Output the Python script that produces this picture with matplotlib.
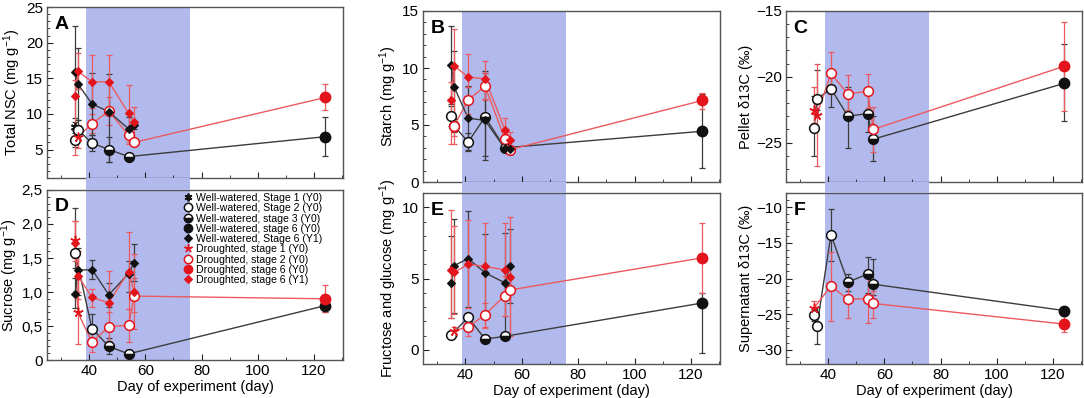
import matplotlib
matplotlib.use('Agg')
import matplotlib.pyplot as plt
from matplotlib.ticker import MultipleLocator, FixedLocator, FixedFormatter
from matplotlib.lines import Line2D
from matplotlib.patches import Rectangle

plt.rcParams['font.family'] = ['Liberation Sans', 'DejaVu Sans']
plt.rcParams['mathtext.fontset'] = 'custom'
plt.rcParams['mathtext.rm'] = 'Liberation Sans'
plt.rcParams['mathtext.it'] = 'Liberation Sans'

# ---------------- data ----------------
# shaded drought period (days)
shade_days = [39, 75.7]

# Panel A: Total NSC
A_ww0_x = [35, 35, 36, 41, 47, 54, 124]
A_ww0_st = [2, 1, 2, 2, 3, 3, 6]
A_ww0_y = [6.4, 8.1, 7.8, 5.9, 5.0, 4.0, 6.8]
A_ww0_lo = [5.3, 7.3, 6.5, 4.8, 3.2, 3.7, 4.1]
A_ww0_hi = [7.6, 8.9, 9.2, 7.0, 6.8, 4.3, 9.5]
A_dr0_x = [36, 41, 47, 54, 56, 124]
A_dr0_st = [1, 2, 2, 2, 2, 6]
A_dr0_y = [6.8, 8.6, 10.4, 7.0, 6.0, 12.3]
A_dr0_lo = [5.2, 7.3, 8.5, 5.8, 5.6, 10.6]
A_dr0_hi = [8.4, 10.0, 12.3, 8.2, 6.4, 14.2]
A_ww1_x = [35, 36, 41, 47, 54, 56]
A_ww1_y = [15.9, 14.2, 11.4, 10.3, 7.9, 8.4]
A_ww1_lo = [9.4, 9.2, 7.0, 3.2, 6.9, 7.9]
A_ww1_hi = [22.4, 19.2, 15.7, 15.6, 9.5, 9.0]
A_dr1_x = [35, 36, 41, 47, 54, 56]
A_dr1_y = [12.5, 16.0, 14.5, 14.5, 10.1, 8.8]
A_dr1_lo = [4.2, 13.5, 10.8, 10.7, 6.0, 6.6]
A_dr1_hi = [14.7, 18.5, 18.2, 18.3, 14.1, 11.0]

# Panel B: Starch
B_ww0_x = [35, 36, 41, 47, 54, 124]
B_ww0_st = [2, 2, 2, 3, 3, 6]
B_ww0_y = [5.8, 4.95, 3.5, 5.7, 3.0, 4.45]
B_ww0_lo = [4.9, 4.4, 2.7, 1.9, 2.8, 1.2]
B_ww0_hi = [6.7, 5.5, 4.3, 9.6, 3.2, 7.7]
B_dr0_x = [36, 36, 41, 47, 54, 56, 124]
B_dr0_st = [1, 2, 2, 2, 2, 2, 6]
B_dr0_y = [4.75, 4.9, 7.2, 8.4, 3.8, 2.85, 7.15]
B_dr0_lo = [3.3, 4.0, 6.0, 7.2, 3.3, 2.5, 6.4]
B_dr0_hi = [5.3, 5.6, 8.3, 9.6, 4.2, 3.2, 7.8]
B_ww1_x = [35, 36, 41, 47, 54, 56]
B_ww1_y = [10.3, 8.36, 5.6, 5.4, 2.95, 2.9]
B_ww1_lo = [6.8, 5.0, 2.8, 2.3, 2.7, 2.7]
B_ww1_hi = [13.7, 11.5, 8.4, 9.7, 3.2, 3.1]
B_dr1_x = [35, 36, 41, 47, 54, 56]
B_dr1_y = [7.15, 10.2, 9.2, 9.05, 4.6, 3.7]
B_dr1_lo = [3.3, 5.0, 8.3, 7.3, 3.6, 3.0]
B_dr1_hi = [8.8, 13.4, 11.2, 10.6, 5.6, 4.4]

# Panel C: Pellet d13C
C_ww0_x = [35, 36, 41, 47, 54, 56, 124]
C_ww0_st = [2, 2, 2, 3, 3, 3, 6]
C_ww0_y = [-23.9, -21.7, -20.9, -23.0, -22.8, -24.75, -20.5]
C_ww0_lo = [-26.0, -22.5, -22.3, -25.4, -24.2, -26.4, -23.4]
C_ww0_hi = [-21.5, -19.5, -19.6, -20.8, -21.4, -23.0, -17.5]
C_dr0_x = [35, 36, 41, 47, 54, 56, 124]
C_dr0_st = [1, 1, 2, 2, 2, 2, 6]
C_dr0_y = [-22.5, -22.9, -19.75, -21.3, -21.1, -24.0, -19.2]
C_dr0_lo = [-23.5, -26.8, -21.3, -22.5, -22.4, -25.7, -22.6]
C_dr0_hi = [-20.8, -19.0, -18.1, -19.9, -19.8, -22.3, -15.85]

# Panel D: Sucrose
D_ww0_x = [35, 41, 47, 54, 124]
D_ww0_st = [2, 2, 3, 3, 6]
D_ww0_y = [1.58, 0.46, 0.20, 0.09, 0.80]
D_ww0_lo = [1.35, 0.25, 0.09, 0.06, 0.70]
D_ww0_hi = [2.23, 0.68, 0.32, 0.12, 0.88]
D_dr0_x = [35, 36, 41, 47, 54, 56, 124]
D_dr0_st = [1, 1, 2, 2, 2, 2, 6]
D_dr0_y = [1.76, 0.70, 0.26, 0.49, 0.51, 0.94, 0.90]
D_dr0_lo = [1.5, 0.23, 0.12, 0.28, 0.27, 0.70, 0.70]
D_dr0_hi = [2.05, 1.0, 0.41, 0.70, 0.75, 1.2, 1.11]
D_ww1_x = [35, 36, 41, 47, 54, 56]
D_ww1_y = [0.97, 1.32, 1.33, 0.96, 1.27, 1.43]
D_ww1_lo = [0.77, 0.95, 1.19, 0.78, 1.0, 1.16]
D_ww1_hi = [1.2, 1.65, 1.47, 1.13, 1.45, 1.70]
D_dr1_x = [35, 36, 41, 47, 54, 56]
D_dr1_y = [1.72, 1.24, 0.92, 0.84, 1.30, 1.0]
D_dr1_lo = [1.45, 0.9, 0.78, 0.42, 0.75, 0.46]
D_dr1_hi = [2.05, 1.6, 1.05, 1.31, 1.88, 1.56]

# Panel E: Fructose and glucose
E_ww0_x = [35, 41, 47, 54, 124]
E_ww0_st = [2, 2, 3, 3, 6]
E_ww0_y = [1.05, 2.27, 0.75, 0.94, 3.28]
E_ww0_lo = [0.9, 1.9, 0.6, 0.8, -0.25]
E_ww0_hi = [1.2, 2.6, 0.9, 1.1, 4.0]
E_dr0_x = [36, 41, 47, 54, 56, 124]
E_dr0_st = [1, 2, 2, 2, 2, 6]
E_dr0_y = [1.35, 1.6, 2.46, 3.8, 4.2, 6.45]
E_dr0_lo = [1.0, 1.0, 1.6, 2.4, 1.0, 4.0]
E_dr0_hi = [1.6, 2.2, 3.3, 5.2, 5.0, 8.9]
E_ww1_x = [35, 36, 41, 47, 54, 56]
E_ww1_y = [4.66, 5.9, 6.4, 5.4, 4.7, 5.9]
E_ww1_lo = [2.2, 2.6, 3.0, 2.7, 1.0, 3.3]
E_ww1_hi = [8.0, 9.2, 9.75, 8.1, 8.2, 8.5]
E_dr1_x = [35, 36, 41, 47, 54, 56]
E_dr1_y = [5.6, 5.43, 6.0, 5.85, 5.6, 5.1]
E_dr1_lo = [2.2, 2.5, 2.9, 1.5, 2.4, 1.0]
E_dr1_hi = [9.8, 8.7, 9.1, 8.9, 8.9, 9.3]

# Panel F: Supernatant d13C
F_ww0_x = [35, 36, 41, 47, 54, 56, 124]
F_ww0_st = [2, 2, 2, 3, 3, 3, 6]
F_ww0_y = [-25.15, -26.7, -13.86, -20.5, -19.4, -20.8, -24.5]
F_ww0_lo = [-26.0, -29.2, -17.5, -21.7, -22.0, -22.3, -25.0]
F_ww0_hi = [-24.3, -24.0, -10.2, -19.4, -17.0, -17.3, -24.0]
F_dr0_x = [35, 41, 47, 54, 56, 124]
F_dr0_st = [1, 2, 2, 2, 2, 6]
F_dr0_y = [-24.1, -21.06, -22.9, -22.85, -23.5, -26.4]
F_dr0_lo = [-25.4, -26.0, -25.5, -26.3, -25.5, -27.5]
F_dr0_hi = [-23.2, -16.3, -20.5, -19.5, -21.8, -25.3]

x_ticks = [40, 60, 80, 100, 120]
x_tick_labels = ['40', '60', '80', '100', '120']
D_yticks = [0, 0.5, 1.0, 1.5, 2.0, 2.5]
D_ytick_labels = ['0', '0,5', '1,0', '1,5', '2,0', '2,5']

legend_labels = ['Well-watered, Stage 1 (Y0)', 'Well-watered, Stage 2 (Y0)',
                 'Well-watered, stage 3 (Y0)', 'Well-watered, stage 6 (Y0)',
                 'Well-watered, Stage 6 (Y1)', 'Droughted, stage 1 (Y0)',
                 'Droughted, stage 2 (Y0)', 'Droughted, stage 6 (Y0)',
                 'Droughted, stage 6 (Y1)']

# ---------------- styles ----------------
BLACK = '#111111'
BLINE = '#3c3c3c'
RED = '#e3141c'
RLINE = '#ec5a5f'
SHADE = '#b2baed'


def marker_style(color, stage):
    if stage == 1:
        if color == BLACK:
            return dict(marker=(6, 2, 0), ms=6.5, mec=color, mew=1.3, mfc=color)
        return dict(marker=(5, 2, 0), ms=7, mec=color, mew=1.1, mfc=color)
    if stage == 2:
        return dict(marker='o', ms=7, mfc='white', mec=color, mew=1.1)
    if stage == 3:
        return dict(marker='o', ms=7, mfc=color, mfcalt='white', fillstyle='bottom',
                    mec=color, mew=1.1)
    if stage == 6:
        return dict(marker='o', ms=7.5, mfc=color, mec=color, mew=1.0)
    # Y1 diamond
    return dict(marker='D', ms=4.2, mfc=color, mec=color, mew=0.8)


def draw_group(ax, x, y, lo, hi, stages, color, lcolor):
    ax.plot(x, y, '-', color=lcolor, lw=1.0, zorder=3)
    yerr = [[yy - l for yy, l in zip(y, lo)], [h - yy for yy, h in zip(y, hi)]]
    ax.errorbar(x, y, yerr=yerr, fmt='none', ecolor=lcolor, elinewidth=0.9,
                capsize=2.2, capthick=0.9, zorder=4)
    for xi, yi, st in zip(x, y, stages):
        ax.plot([xi], [yi], linestyle='none', zorder=5, **marker_style(color, st))


fig = plt.figure(figsize=(10.84, 3.98), dpi=100)
W, H = 1084, 398


def add_ax(l, t, r, b):
    return fig.add_axes([l / W, 1 - b / H, (r - l) / W, (b - t) / H])


axA = add_ax(47, 7, 343, 178)
axD = add_ax(47, 190, 343, 360)
axB = add_ax(423, 11, 720, 182)
axE = add_ax(423, 193, 720, 364)
axC = add_ax(786, 11, 1082, 182)
axF = add_ax(786, 193, 1082, 364)

panels = [
    (axA, 'A', 'Total NSC (mg g$^{-1}$)', (1, 25), 5, 1,
     (A_ww0_x, A_ww0_y, A_ww0_lo, A_ww0_hi, A_ww0_st),
     (A_dr0_x, A_dr0_y, A_dr0_lo, A_dr0_hi, A_dr0_st),
     (A_ww1_x, A_ww1_y, A_ww1_lo, A_ww1_hi),
     (A_dr1_x, A_dr1_y, A_dr1_lo, A_dr1_hi)),
    (axB, 'B', 'Starch (mg g$^{-1}$)', (0, 15), 5, 1,
     (B_ww0_x, B_ww0_y, B_ww0_lo, B_ww0_hi, B_ww0_st),
     (B_dr0_x, B_dr0_y, B_dr0_lo, B_dr0_hi, B_dr0_st),
     (B_ww1_x, B_ww1_y, B_ww1_lo, B_ww1_hi),
     (B_dr1_x, B_dr1_y, B_dr1_lo, B_dr1_hi)),
    (axC, 'C', 'Pellet δ13C (‰)', (-28, -15), 5, 1,
     (C_ww0_x, C_ww0_y, C_ww0_lo, C_ww0_hi, C_ww0_st),
     (C_dr0_x, C_dr0_y, C_dr0_lo, C_dr0_hi, C_dr0_st),
     None, None),
    (axD, 'D', 'Sucrose (mg g$^{-1}$)', (0, 2.5), 0.5, 0.1,
     (D_ww0_x, D_ww0_y, D_ww0_lo, D_ww0_hi, D_ww0_st),
     (D_dr0_x, D_dr0_y, D_dr0_lo, D_dr0_hi, D_dr0_st),
     (D_ww1_x, D_ww1_y, D_ww1_lo, D_ww1_hi),
     (D_dr1_x, D_dr1_y, D_dr1_lo, D_dr1_hi)),
    (axE, 'E', 'Fructose and glucose (mg g$^{-1}$)', (-1, 11), 5, 1,
     (E_ww0_x, E_ww0_y, E_ww0_lo, E_ww0_hi, E_ww0_st),
     (E_dr0_x, E_dr0_y, E_dr0_lo, E_dr0_hi, E_dr0_st),
     (E_ww1_x, E_ww1_y, E_ww1_lo, E_ww1_hi),
     (E_dr1_x, E_dr1_y, E_dr1_lo, E_dr1_hi)),
    (axF, 'F', 'Supernatant δ13C (‰)', (-32, -8), 5, 1,
     (F_ww0_x, F_ww0_y, F_ww0_lo, F_ww0_hi, F_ww0_st),
     (F_dr0_x, F_dr0_y, F_dr0_lo, F_dr0_hi, F_dr0_st),
     None, None),
]

for ax, letter, ylabel, ylim, maj, mnr, ww0, dr0, ww1, dr1 in panels:
    ax.set_xlim(25, 130.3)
    ax.set_ylim(*ylim)
    ax.axvspan(shade_days[0], shade_days[1], color=SHADE, lw=0, zorder=0)
    draw_group(ax, *ww0[:4], ww0[4], BLACK, BLINE)
    draw_group(ax, *dr0[:4], dr0[4], RED, RLINE)
    if ww1 is not None:
        draw_group(ax, *ww1, [9] * len(ww1[0]), BLACK, BLINE)
        draw_group(ax, *dr1, [9] * len(dr1[0]), RED, RLINE)
    ax.xaxis.set_major_locator(FixedLocator(x_ticks))
    ax.xaxis.set_minor_locator(MultipleLocator(10))
    ax.yaxis.set_major_locator(MultipleLocator(maj))
    ax.yaxis.set_minor_locator(MultipleLocator(mnr))
    ax.tick_params(which='both', direction='in', top=False, right=False,
                   labelsize=11, colors='#222222', labelcolor='black', pad=3)
    ax.tick_params(which='major', length=4, width=0.8)
    ax.tick_params(which='minor', length=2, width=0.6)
    for s in ax.spines.values():
        s.set_color('#555555')
        s.set_linewidth(1.0)
    ax.set_ylabel(ylabel, fontsize=10.5, labelpad=2)
    ax.text(0.025, 0.95, letter, transform=ax.transAxes, fontsize=14,
            fontweight='bold', va='top', ha='left', zorder=6)
    if ax in (axA, axB, axC):
        ax.set_xticklabels([])
    else:
        ax.set_xticklabels(x_tick_labels)
        ax.set_xlabel('Day of experiment (day)', fontsize=10.5, labelpad=1)

axD.yaxis.set_major_locator(FixedLocator(D_yticks))
axD.yaxis.set_major_formatter(FixedFormatter(D_ytick_labels))
axD.set_ylabel('Sucrose (mg g$^{-1}$)', fontsize=10.5, labelpad=1)

# shading continuing through the gap between the rows
for top, bot in ((axA, axD), (axB, axE), (axC, axF)):
    x0 = top.transData.transform((shade_days[0], 0))[0]
    x1 = top.transData.transform((shade_days[1], 0))[0]
    inv = fig.transFigure.inverted()
    fx0 = inv.transform((x0, 0))[0]
    fx1 = inv.transform((x1, 0))[0]
    y_top = top.get_position().y0
    y_bot = bot.get_position().y1
    fig.patches.append(Rectangle((fx0, y_bot), fx1 - fx0, y_top - y_bot,
                                 transform=fig.transFigure, color=SHADE, lw=0,
                                 zorder=0))

# legend
handles = [
    Line2D([], [], linestyle='none', **dict(marker_style(BLACK, 1), ms=5.5)),
    Line2D([], [], linestyle='none', **dict(marker_style(BLACK, 2), ms=6)),
    Line2D([], [], linestyle='none', **dict(marker_style(BLACK, 3), ms=6)),
    Line2D([], [], linestyle='none', **dict(marker_style(BLACK, 6), ms=6)),
    Line2D([], [], linestyle='none', **dict(marker_style(BLACK, 9), ms=4.5)),
    Line2D([], [], linestyle='none', **dict(marker_style(RED, 1), ms=6)),
    Line2D([], [], linestyle='none', **dict(marker_style(RED, 2), ms=6)),
    Line2D([], [], linestyle='none', **dict(marker_style(RED, 6), ms=6)),
    Line2D([], [], linestyle='none', **dict(marker_style(RED, 9), ms=4.5)),
]
leg = axD.legend(handles, legend_labels, loc='upper right', bbox_to_anchor=(0.955, 1.025),
                 frameon=False, fontsize=7.6, handletextpad=0.35, labelspacing=0.02,
                 handlelength=0.9, borderaxespad=0.3, handleheight=0.9)
leg.set_zorder(10)

fig.savefig('out.png', dpi=100)
